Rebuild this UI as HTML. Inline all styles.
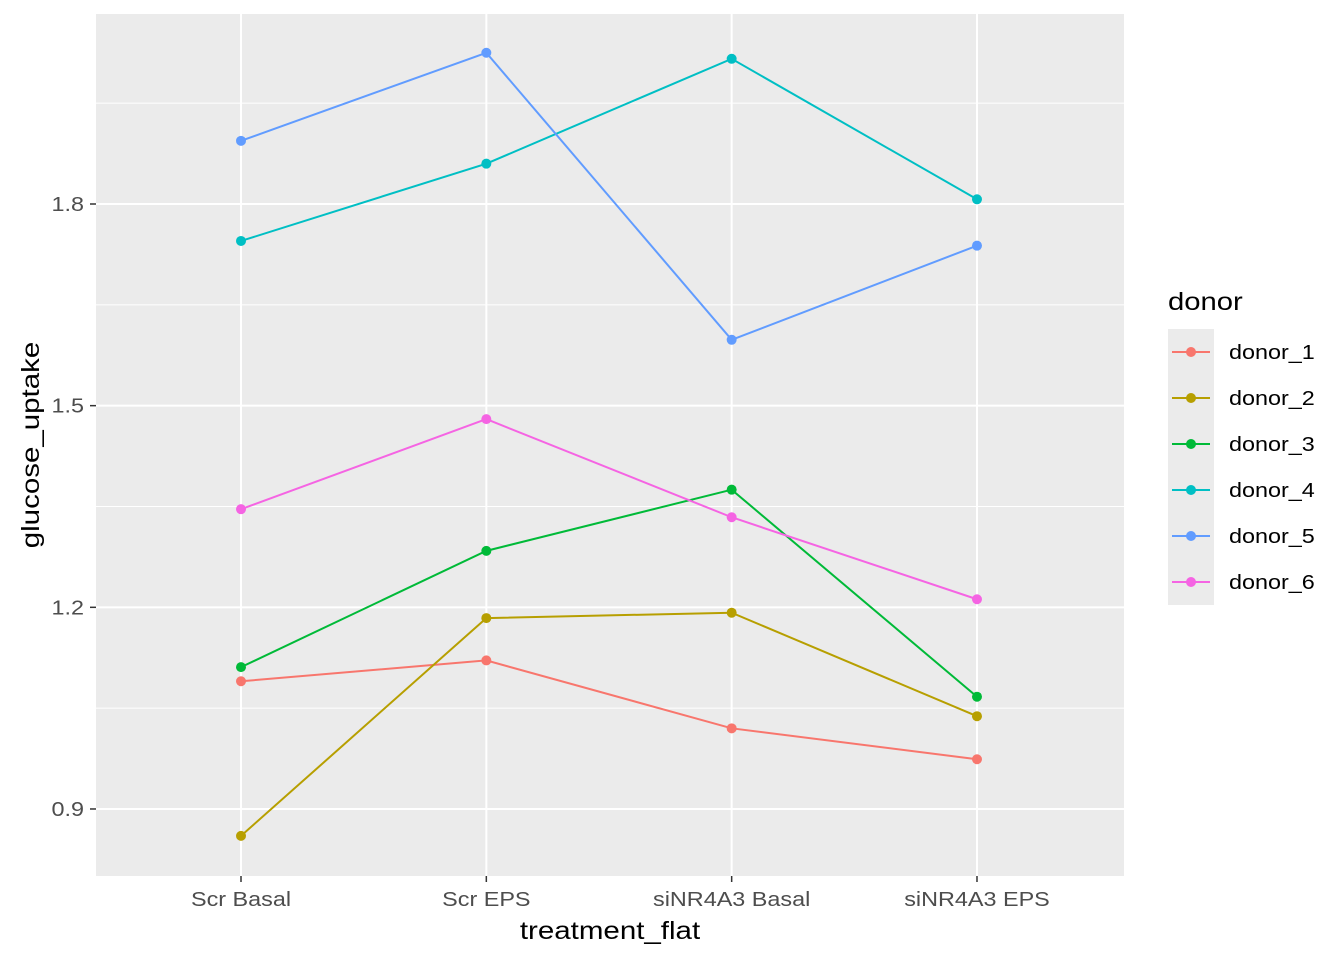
<!DOCTYPE html>
<html><head><meta charset="utf-8"><style>
html,body{margin:0;padding:0;background:#fff;}
svg{display:block;font-family:"Liberation Sans",Arial,sans-serif;}
</style></head><body>
<svg id="chart" width="1344" height="960" xmlns="http://www.w3.org/2000/svg">
<rect x="96" y="14" width="1028" height="862" fill="#EBEBEB"/>
<g id="grid"></g>
<g id="series"></g>
<g id="axes"></g>
<g transform="translate(610,939) scale(1.18,1)"><text x="0" y="0" font-size="25" text-anchor="middle" fill="#000">treatment_flat</text></g>
<g transform="translate(39,445) rotate(-90) scale(1.18,1)"><text x="0" y="0" font-size="25" text-anchor="middle" fill="#000">glucose_uptake</text></g>
<g id="legend"></g>
</svg>
<script>
const categories = ["Scr Basal","Scr EPS","siNR4A3 Basal","siNR4A3 EPS"];
const donors = ["donor_1","donor_2","donor_3","donor_4","donor_5","donor_6"];
const donor1 = [1.090,1.121,1.020,0.974];
const donor2 = [0.860,1.184,1.192,1.038];
const donor3 = [1.111,1.284,1.375,1.067];
const donor4 = [1.745,1.860,2.016,1.807];
const donor5 = [1.894,2.025,1.598,1.738];
const donor6 = [1.346,1.480,1.334,1.212];
const yTicks = [0.9,1.2,1.5,1.8];
const yMinor = [1.05,1.35,1.65,1.95];
const colors = ["#F8766D","#B79F00","#00BA38","#00BFC4","#619CFF","#F564E3"];
const seriesData = [donor1,donor2,donor3,donor4,donor5,donor6];

const NS="http://www.w3.org/2000/svg";
function xScale(i){return 241+i*245.33;}
function yScale(v){return 204+(1.8-v)*672.2;}
function mk(tag,attrs,parent){const e=document.createElementNS(NS,tag);for(const k in attrs)e.setAttribute(k,attrs[k]);parent.appendChild(e);return e;}
function txt(parent,x,y,size,anchor,fill,str){
  const g=mk('g',{transform:'translate('+x+','+y+') scale(1.17,1)'},parent);
  const t=mk('text',{x:0,y:0,'font-size':size,'text-anchor':anchor,fill:fill},g);
  t.textContent=str;return t;}
const grid=document.getElementById('grid'),ser=document.getElementById('series'),ax=document.getElementById('axes'),leg=document.getElementById('legend');
yMinor.forEach(v=>{const l=mk('line',{x1:96,x2:1124,y1:yScale(v),y2:yScale(v),stroke:'#fff','stroke-width':1},grid);

});
yTicks.forEach(v=>{const y=yScale(v);
const l=mk('line',{x1:96,x2:1124,y1:y,y2:y,stroke:'#fff','stroke-width':2},grid);


const t=txt(ax,84,y+7,20,'end','#4D4D4D',v.toFixed(1));


const tk=mk('line',{x1:90,x2:96,y1:y,y2:y,stroke:'#333','stroke-width':1.5},ax);

});
categories.forEach((c,i)=>{const x=xScale(i);
const l=mk('line',{x1:x,x2:x,y1:14,y2:876,stroke:'#fff','stroke-width':2},grid);


const tk=mk('line',{x1:x,x2:x,y1:876,y2:882,stroke:'#333','stroke-width':1.5},ax);


const t=txt(ax,x,906,20,'middle','#4D4D4D',c);

});
seriesData.forEach((d,s)=>{
const pts=d.map((v,i)=>xScale(i)+','+yScale(v)).join(' ');
const pl=mk('polyline',{points:pts,fill:'none',stroke:colors[s],'stroke-width':2},ser);


d.forEach((v,i)=>{const c=mk('circle',{cx:xScale(i),cy:yScale(v),r:5,fill:colors[s]},ser);

});});
const lt=txt(leg,1168,310,25,'start','#000','donor');


const kb=mk('rect',{x:1168,y:329,width:46,height:276,fill:'#EBEBEB'},leg);


donors.forEach((d,s)=>{const y=352+s*46;
const g=mk('g',{},leg);


mk('line',{x1:1172,x2:1210,y1:y,y2:y,stroke:colors[s],'stroke-width':2},g);
mk('circle',{cx:1191,cy:y,r:5,fill:colors[s]},g);
txt(g,1229,y+7,20,'start','#000',d);});
</script>
</body></html>
